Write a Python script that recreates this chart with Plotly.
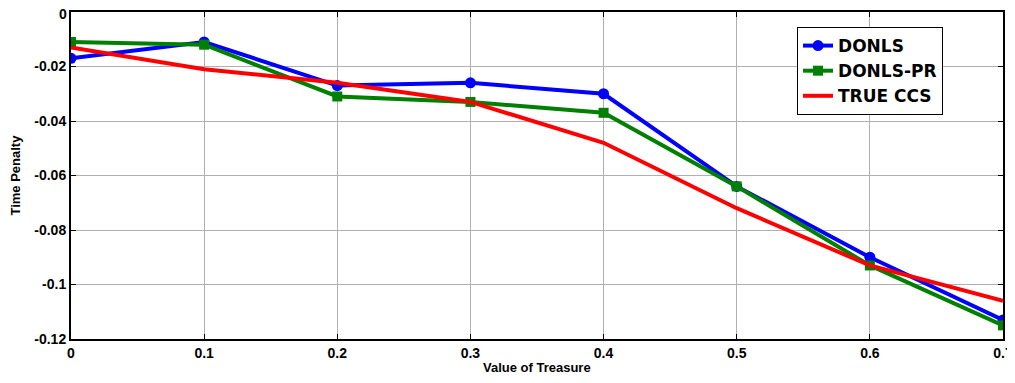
import plotly.graph_objects as go

x_vals = [0, 0.1, 0.2, 0.3, 0.4, 0.5, 0.6, 0.7]
donls = [-0.017, -0.011, -0.027, -0.026, -0.030, -0.064, -0.090, -0.113]
donls_pr = [-0.011, -0.012, -0.031, -0.033, -0.037, -0.064, -0.093, -0.115]
true_ccs = [-0.013, -0.021, -0.026, -0.033, -0.048, -0.072, -0.093, -0.106]

x_ticks = [0, 0.1, 0.2, 0.3, 0.4, 0.5, 0.6, 0.7]
x_labels = ["0", "0.1", "0.2", "0.3", "0.4", "0.5", "0.6", "0.7"]
y_ticks = [0, -0.02, -0.04, -0.06, -0.08, -0.1, -0.12]
y_labels = ["0", "-0.02", "-0.04", "-0.06", "-0.08", "-0.1", "-0.12"]

font_family = "Liberation Sans, Arial, sans-serif"

fig = go.Figure()
fig.add_trace(go.Scatter(x=x_vals, y=donls, name="<b>DONLS</b>", mode="lines+markers",
                         line=dict(color="#0000FF", width=4),
                         marker=dict(symbol="circle", size=11, color="#0000FF")))
fig.add_trace(go.Scatter(x=x_vals, y=donls_pr, name="<b>DONLS-PR</b>", mode="lines+markers",
                         line=dict(color="#008000", width=4),
                         marker=dict(symbol="square", size=10, color="#008000")))
fig.add_trace(go.Scatter(x=x_vals, y=true_ccs, name="<b>TRUE CCS</b>", mode="lines",
                         line=dict(color="#FF0000", width=4)))

axis_common = dict(
    showgrid=True, gridcolor="#b0b0b0", gridwidth=1,
    showline=True, linecolor="black", linewidth=2, mirror="ticks",
    ticks="inside", ticklen=5, tickcolor="black", tickwidth=1,
    zeroline=False, automargin=False, ticklabeloverflow="allow",
    tickfont=dict(family=font_family, size=14, color="black"),
)

fig.update_xaxes(range=[0, 0.7], tickvals=x_ticks,
                 ticktext=["<b>%s</b>" % t for t in x_labels], **axis_common)
# top "0" label drawn as an annotation nudged slightly down so it is not clipped
fig.update_yaxes(range=[-0.12, 0], tickvals=y_ticks,
                 ticktext=["" if t == "0" else "<b>%s</b>" % t for t in y_labels], **axis_common)
fig.add_annotation(text="<b>%s</b>" % y_labels[0], xref="paper", yref="y",
                   x=0, y=y_ticks[0], xanchor="right", yanchor="middle", xshift=-3, yshift=-2,
                   borderpad=0,
                   showarrow=False, font=dict(family=font_family, size=14, color="black"))

fig.add_annotation(text="<b>Value of Treasure</b>", xref="paper", yref="paper",
                   x=0.5, y=-0.088, xanchor="center", yanchor="middle",
                   showarrow=False, font=dict(family=font_family, size=13, color="black"))
fig.add_annotation(text="<b>Time Penalty</b>", xref="paper", yref="paper",
                   x=-0.06, y=0.5, xanchor="center", yanchor="middle", textangle=-90,
                   showarrow=False, font=dict(family=font_family, size=13, color="black"))

# page body has an 8px margin, so the figure is sized/offset to compensate
fig.update_layout(
    width=1007, height=375,
    margin=dict(l=63, r=12, t=4, b=44),
    paper_bgcolor="white", plot_bgcolor="white",
    font=dict(family=font_family, color="black"),
    legend=dict(x=0.779, y=0.954, xanchor="left", yanchor="top",
                bgcolor="white", bordercolor="black", borderwidth=1,
                font=dict(family="DejaVu Sans, sans-serif", size=17, color="black"),
                tracegroupgap=0, itemwidth=30),
)

fig.write_html("out.html")
